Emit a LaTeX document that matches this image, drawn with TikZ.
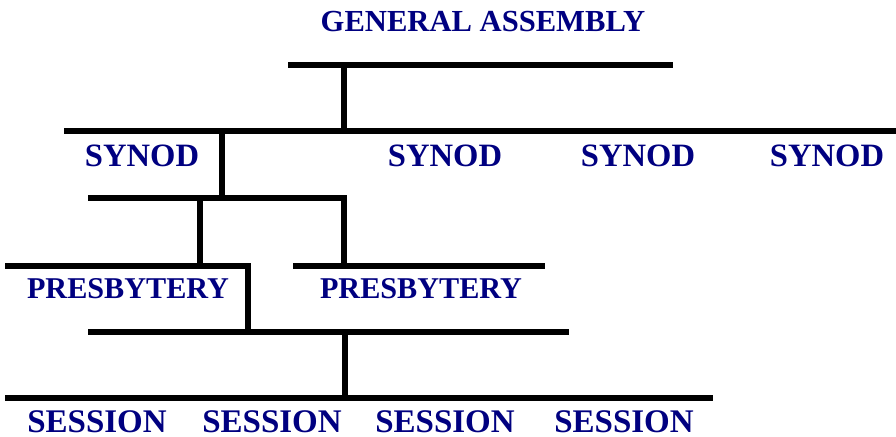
\documentclass[tikz,border=0pt]{standalone}
\usepackage{fontspec}
\setmainfont{Liberation Serif}
\definecolor{navy}{RGB}{0,0,128}
\tikzset{
  bar/.style={line width=5.5pt,line join=miter},
  lbl/.style={inner sep=0pt,text=navy,font=\bfseries\fontsize{#1}{#1}\selectfont},
}
\def\ga{65}
\def\sy{131}
\def\sb{198}
\def\pr{266}
\def\pb{332}
\def\se{398}

\begin{document}
\begin{tikzpicture}[x=1pt,y=-1pt]
\useasboundingbox (0,0) rectangle (896,436);
\draw[bar] (288,{\ga})--(673,{\ga});
\draw[bar] (344,{\ga})--(344,{\sy});
\draw[bar] (64,{\sy})--(896,{\sy});
\draw[bar] (222,{\sy})--(222,{\sb});
\draw[bar] (88,{\sb}) -| (344,{\pr});
\draw[bar] (200,{\sb})--(200,{\pr});
\draw[bar] (5,{\pr}) -| (248,{\pb});
\draw[bar] (293,{\pr})--(545,{\pr});
\draw[bar] (88,{\pb})--(569,{\pb});
\draw[bar] (345,{\pb})--(345,{\se});
\draw[bar] (5,{\se})--(713,{\se});
\node[lbl=30.6] (ga) at (483,22) {GENERAL ASSEMBLY};
\node[lbl=32.6] (syn1) at (142,156) {SYNOD};
\node[lbl=32.6] (syn2) at (445,156) {SYNOD};
\node[lbl=32.6] (syn3) at (638,156) {SYNOD};
\node[lbl=32.6] (syn4) at (827,156) {SYNOD};
\node[lbl=30.2] (pres1) at (128,289) {PRESBYTERY};
\node[lbl=30.2] (pres2) at (421,289) {PRESBYTERY};
\node[lbl=33] (ses1) at (97,422) {SESSION};
\node[lbl=33] (ses2) at (272,422) {SESSION};
\node[lbl=33] (ses3) at (445,422) {SESSION};
\node[lbl=33] (ses4) at (624,422) {SESSION};
\end{tikzpicture}
\end{document}
